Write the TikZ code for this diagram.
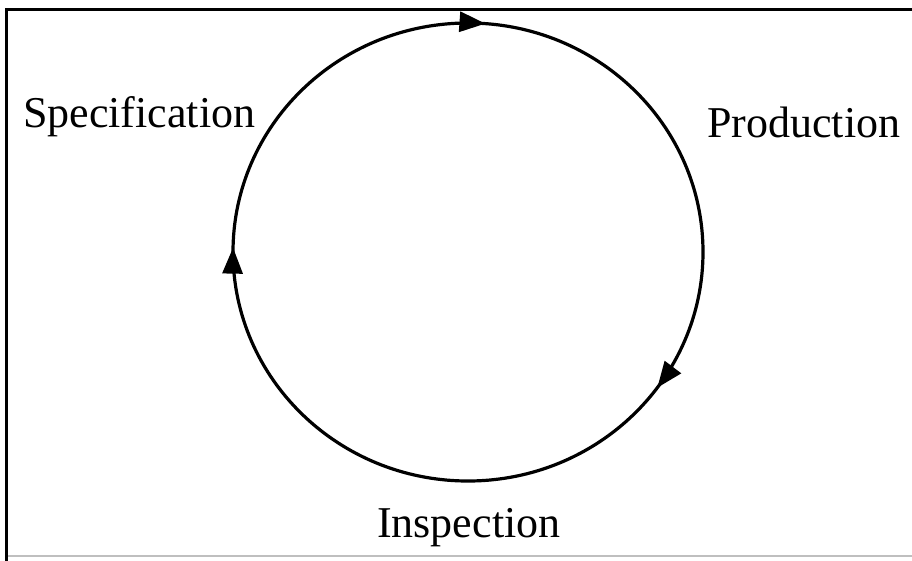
\documentclass[tikz,border=0pt]{standalone}
\usepackage{fontspec}
\setmainfont{Liberation Serif}[Ligatures=NoCommon]
\usetikzlibrary{arrows.meta,decorations.markings}
\tikzset{
  frameline/.style={line width=3pt, line cap=rect},
  cycleline/.style={line width=3.2pt},
  lbl/.style={anchor=base west, inner sep=0pt, font=\fontsize{44}{50}\selectfont},
  tipmark/.style={postaction={decorate, decoration={markings,
     mark=at position #1 with {\arrow{Triangle[length=26pt,width=20pt]}}}}}
}
\begin{document}
\begin{tikzpicture}[x=1pt,y=-1pt]
  \useasboundingbox (0,0) rectangle (912,560);
  \fill[white] (0,0) rectangle (912,560);
  % frame
  \coordinate (fbl) at (6,562);
  \coordinate (ftl) at (6,9);
  \coordinate (ftr) at (915,9);
  \draw[frameline] (fbl) -- (ftl) -- (ftr);
  \draw[line width=1.5pt, black!25] (8,556) -- (912,556);
  % cycle
  \coordinate (c) at (468,252);
  \draw[cycleline, tipmark=0.100, tipmark=0.503, tipmark=0.762]
    (c) ellipse [x radius=235, y radius=229];
  % labels
  \node[lbl] (spec) at (23,127) {Specification};
  \node[lbl] (prod) at (707,137) {Production};
  \node[lbl] (insp) at (377,537) {Inspection};
\end{tikzpicture}
\end{document}
